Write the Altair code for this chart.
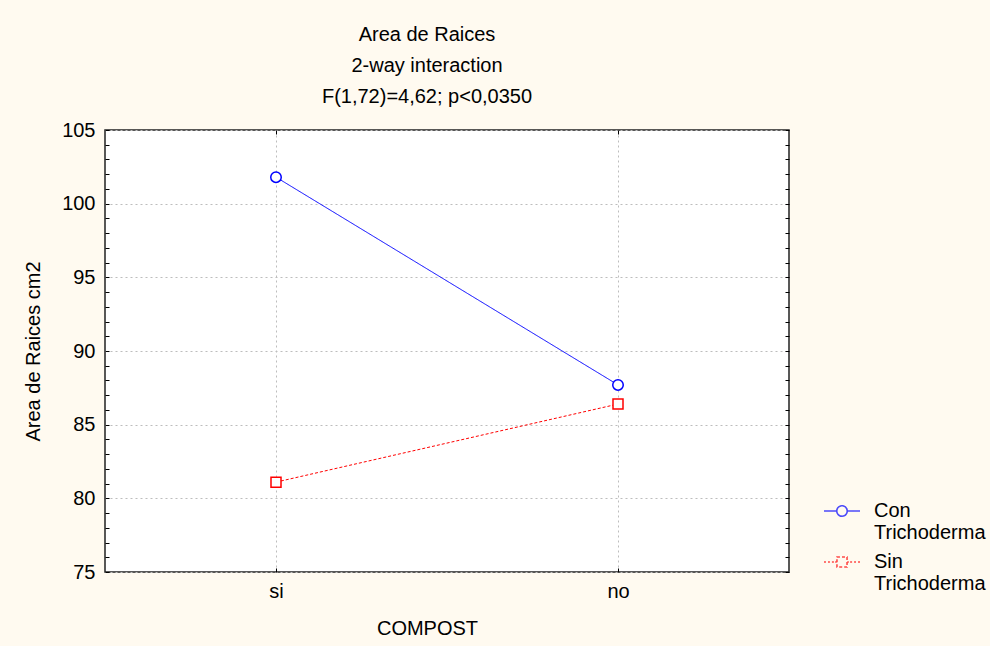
import altair as alt
import pandas as pd

# ---- data ----
compost = ["si", "no"]
tratamientos = ["Con Trichoderma", "Sin Trichoderma"]
con_trichoderma = [101.8, 87.7]
sin_trichoderma = [81.1, 86.4]
y_major = [75, 80, 85, 90, 95, 100, 105]
y_minor = list(range(75, 106))
title_lines = ["Area de Raices", "2-way interaction", "F(1,72)=4,62; p<0,0350"]

rows = []
for c, v in zip(compost, con_trichoderma):
    rows.append({"COMPOST": c, "Tratamiento": tratamientos[0], "Area": v})
for c, v in zip(compost, sin_trichoderma):
    rows.append({"COMPOST": c, "Tratamiento": tratamientos[1], "Area": v})
df = pd.DataFrame(rows)

W, H = 684, 442
FONT = "Liberation Sans"
BLUE = "#0000FF"
RED = "#FF0000"
GRID = "#BDBDBD"

# legend symbols: line + marker drawn as one custom path
PATH_CON = ("M-1,0L-0.3,0M0.3,0L1,0"
            "M0.29,0A0.29,0.29,0,1,1,-0.29,0A0.29,0.29,0,1,1,0.29,0Z")
PATH_SIN = ("M-1,0L-0.89,0M-0.78,0L-0.67,0M-0.56,0L-0.45,0M-0.38,0L-0.29,0"
            "M0.29,0L0.38,0M0.45,0L0.56,0M0.67,0L0.78,0M0.89,0L1,0"
            "M-0.28,-0.28H0.28V0.28H-0.28Z")

x_scale = alt.Scale(type="point", domain=compost, padding=0.5)
y_scale = alt.Scale(domain=[75, 105], nice=False, zero=False)
color_scale = alt.Scale(domain=tratamientos, range=[BLUE, RED])

base = alt.Chart(df)

lines = base.mark_line(strokeWidth=1).encode(
    x=alt.X("COMPOST:N", scale=x_scale, sort=compost,
            axis=alt.Axis(orient="bottom", title="COMPOST", ticks=False, domain=False,
                          grid=True, gridColor=GRID, gridDash=[2, 3], gridWidth=1,
                          labelFont=FONT, labelFontSize=20, labelColor="black",
                          labelPadding=9, labelAngle=0,
                          titleFont=FONT, titleFontSize=20, titleFontWeight="normal",
                          titleColor="black", titleX=322, titleY=56,
                          titleBaseline="middle", titleAlign="center")),
    y=alt.Y("Area:Q", scale=y_scale,
            axis=alt.Axis(orient="left", values=y_major, ticks=False, domain=False,
                          grid=True, gridColor=GRID, gridDash=[2, 3], gridWidth=1,
                          labelFont=FONT, labelFontSize=20, labelColor="black",
                          labelPadding=10,
                          title="Area de Raices cm2", titleFont=FONT, titleFontSize=20,
                          titleFontWeight="normal", titleColor="black",
                          titleX=-72, titleY=H / 2, titleAngle=270,
                          titleBaseline="middle", titleAlign="center")),
    color=alt.Color("Tratamiento:N", scale=color_scale, legend=None),
    strokeDash=alt.StrokeDash("Tratamiento:N",
                              scale=alt.Scale(domain=tratamientos, range=[[1, 0], [3, 2]]),
                              legend=None),
)

circles = base.transform_filter(alt.datum.Tratamiento == tratamientos[0]).mark_point(
    shape="circle", filled=True, fill="white", stroke=BLUE, strokeWidth=1.5,
    size=110, opacity=1, fillOpacity=1
).encode(
    x=alt.X("COMPOST:N", scale=x_scale, sort=compost,
            axis=alt.Axis(orient="top", offset=-H, labels=False, domain=False, grid=False,
                          ticks=True, tickSize=4, tickColor="black", title=None)),
    y=alt.Y("Area:Q", scale=y_scale,
            axis=alt.Axis(orient="right", offset=-W, values=y_minor, labels=False,
                          domain=False, grid=False, ticks=True, tickSize=4,
                          tickColor="black", title=None)),
)

squares = base.transform_filter(alt.datum.Tratamiento == tratamientos[1]).mark_point(
    shape="square", filled=True, fill="white", stroke=RED, strokeWidth=1.5,
    size=100, opacity=1, fillOpacity=1
).encode(
    x=alt.X("COMPOST:N", scale=x_scale, sort=compost,
            axis=alt.Axis(orient="bottom", offset=-H, labels=False, domain=False, grid=False,
                          ticks=True, tickSize=4, tickColor="black", title=None)),
    y=alt.Y("Area:Q", scale=y_scale,
            axis=alt.Axis(orient="left", offset=-W, values=y_minor, labels=False,
                          domain=False, grid=False, ticks=True, tickSize=4,
                          tickColor="black", title=None)),
)

legend_props = dict(
    orient="none", legendX=718, legendY=362, title=None, padding=0,
    symbolSize=1296, symbolStrokeWidth=1.6, symbolFillColor="transparent",
    symbolDash=[1, 0],
    labelFont=FONT, labelFontSize=20, labelColor="black", labelOffset=13,
    labelExpr="split(datum.label, ' ')", labelBaseline="middle", rowPadding=0,
)

# legend carrier: tiny marks hidden under the real markers
legend_layer = base.mark_point(filled=False, strokeWidth=1.6, size=1).encode(
    x=alt.X("COMPOST:N", scale=x_scale, sort=compost, axis=None),
    y=alt.Y("Area:Q", scale=y_scale, axis=None),
    color=alt.Color("Tratamiento:N", scale=color_scale, legend=alt.Legend(**legend_props)),
    shape=alt.Shape("Tratamiento:N",
                    scale=alt.Scale(domain=tratamientos, range=[PATH_CON, PATH_SIN]),
                    legend=alt.Legend(**legend_props)),
)

chart = alt.layer(legend_layer, lines, circles, squares).properties(
    width=W,
    height=H,
    padding={"left": 105, "top": 130, "right": 990 - 105 - W, "bottom": 646 - 130 - H},
    autosize=alt.AutoSizeParams(type="none"),
    title=alt.TitleParams(text=title_lines, font=FONT, fontSize=20, fontWeight="normal",
                          color="black", lineHeight=31, anchor="middle", dx=-20, offset=13),
).configure(
    background="#FFFAF0",
).configure_view(
    fill="white", stroke="#222222", strokeWidth=1.5,
)

chart.save("out.html", embed_options={"renderer": "svg", "actions": False})
